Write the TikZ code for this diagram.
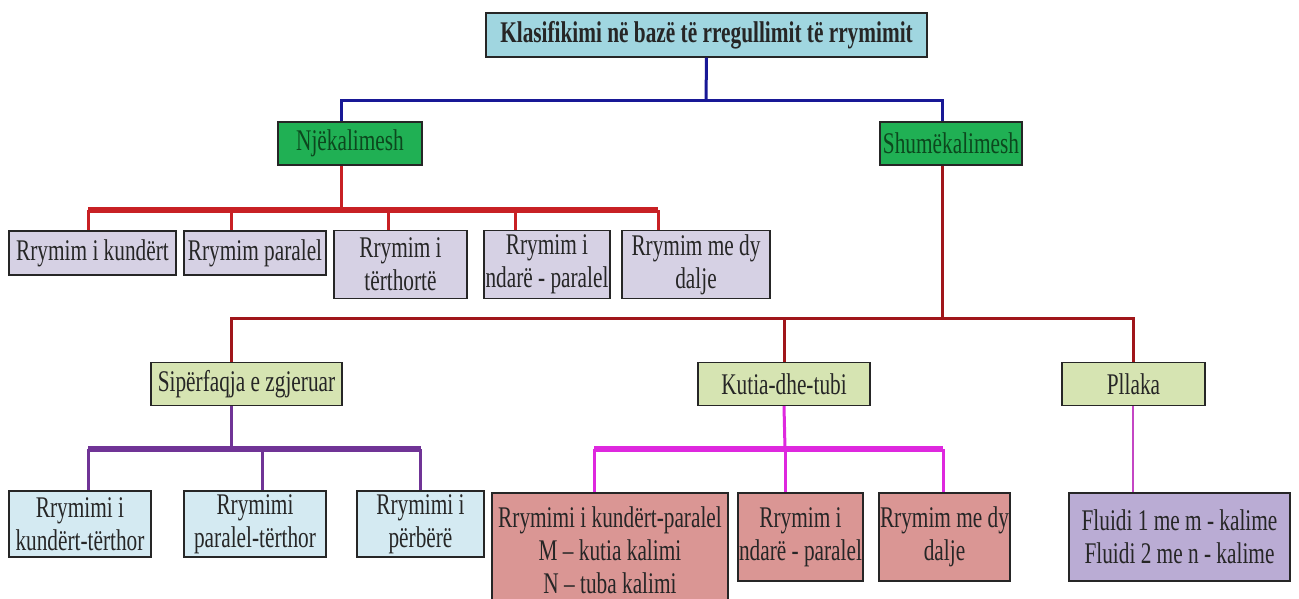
\documentclass[tikz,border=0pt]{standalone}
\usepackage{fontspec}
\setmainfont{Liberation Serif}[FakeStretch=0.71]
\begin{document}
\begin{tikzpicture}[x=1pt,y=-1pt,
  box/.style={draw=black!85,line width=1.2pt,inner sep=0pt,align=center,
    text=black!85,font=\fontsize{30}{33}\selectfont},
  topbox/.style={box,fill=topfill,font=\bfseries\fontsize{30}{33}\selectfont},
  greenbox/.style={box,fill=grfill,text=grtext},
  lilabox/.style={box,fill=lilafill},
  olivebox/.style={box,fill=olivefill},
  bluebox/.style={box,fill=bluefill},
  salmonbox/.style={box,fill=salmonfill},
  violetbox/.style={box,fill=violetfill},
  blueline/.style={draw=lnblue,line width=3pt},
  redbus/.style={draw=lnred,line width=6pt},
  reddrop/.style={draw=lnred,line width=3pt},
  darkred/.style={draw=lndark,line width=3pt},
  purpbus/.style={draw=lnpurp,line width=6pt},
  purpdrop/.style={draw=lnpurp,line width=3pt},
  magbus/.style={draw=lnmag,line width=6pt},
  magdrop/.style={draw=lnmag,line width=3pt},
  plline/.style={draw=lnpl,line width=2.5pt}]
\definecolor{topfill}{RGB}{160,214,224}
\definecolor{grfill}{RGB}{32,176,84}
\definecolor{grtext}{RGB}{12,72,30}
\definecolor{lilafill}{RGB}{214,209,228}
\definecolor{olivefill}{RGB}{214,228,178}
\definecolor{bluefill}{RGB}{212,234,242}
\definecolor{salmonfill}{RGB}{218,150,148}
\definecolor{violetfill}{RGB}{186,172,212}
\definecolor{lnblue}{RGB}{24,24,150}
\definecolor{lnred}{RGB}{200,32,36}
\definecolor{lndark}{RGB}{160,22,26}
\definecolor{lnpurp}{RGB}{112,52,150}
\definecolor{lnmag}{RGB}{222,40,222}
\definecolor{lnpl}{RGB}{196,70,196}

\fill[white] (0,0) rectangle (1299,599);
\useasboundingbox (0,0) rectangle (1299,599);

% root
\node[topbox,minimum width=441,minimum height=44] (root) at (706.5,35)
  {Klasifikimi në bazë të rregullimit të rrymimit};

% first level
\node[greenbox,minimum width=144,minimum height=43] (nje) at (350,143.5) {Njëkalimesh};
\node[greenbox,minimum width=142,minimum height=43] (shu) at (951,143.5) {Shumëkalimesh};

% single-pass children
\node[lilabox,minimum width=167,minimum height=44] (rk) at (92.5,253) {Rrymim i kundërt};
\node[lilabox,minimum width=142,minimum height=44] (rp) at (255,253) {Rrymim paralel};
\node[lilabox,minimum width=133,minimum height=68] (rt) at (400.5,264.5) {Rrymim i\\tërthortë};
\node[lilabox,minimum width=126,minimum height=68] (rn) at (547,264.5) {Rrymim i\\ndarë - paralel};
\node[lilabox,minimum width=148,minimum height=68] (rd) at (696,264.5) {Rrymim me dy\\dalje};

% multi-pass children
\node[olivebox,minimum width=191,minimum height=43] (sip) at (246.5,384) {Sipërfaqja e zgjeruar};
\node[olivebox,minimum width=172,minimum height=43] (kut) at (784,384) {Kutia-dhe-tubi};
\node[olivebox,minimum width=143,minimum height=43] (pll) at (1133.5,384) {Pllaka};

% extended surface
\node[bluebox,minimum width=142,minimum height=66] (pk) at (80,524) {Rrymimi i\\kundërt-tërthor};
\node[bluebox,minimum width=142,minimum height=66] (pp) at (255,524) {Rrymimi\\paralel-tërthor};
\node[bluebox,minimum width=127,minimum height=66] (pb) at (420.5,524) {Rrymimi i\\përbërë};

% shell and tube
\node[salmonbox,minimum width=236,minimum height=114] (mk) at (610,550)
  {Rrymimi i kundërt-paralel\\M – kutia kalimi\\N – tuba kalimi};
\node[salmonbox,minimum width=125,minimum height=88] (mn) at (800.5,537) {Rrymim i\\ndarë - paralel};
\node[salmonbox,minimum width=131,minimum height=88] (md) at (944.5,537) {Rrymim me dy\\dalje};

% plate
\node[violetbox,minimum width=221,minimum height=88] (fl) at (1179.5,537)
  {Fluidi 1 me m - kalime\\Fluidi 2 me n - kalime};

% bus junctions
\coordinate (jb) at (706,101);
\coordinate (jr) at (341,210);
\coordinate (jd) at (942,318);
\coordinate (jp) at (231,449);
\coordinate (jm) at (785,449);

% root -> first level
\draw[blueline] (root.south) -- (jb);
\draw[blueline] ([xshift=-9]nje.north) |- ([xshift=-9]shu.north |- jb) -- ([xshift=-9]shu.north);

% single-pass
\draw[reddrop] ([xshift=-9]nje.south) -- (jr);
\draw[redbus] ([xshift=-4.5]rk.north |- jr) -- ([xshift=-38]rd.north |- jr);
\foreach \n/\s in {rk/-4.5,rp/-24,rt/-12.5,rn/-32,rd/-38}
  \draw[reddrop] ([xshift=\s]\n.north |- jr) -- ([xshift=\s]\n.north);

% multi-pass
\draw[darkred] ([xshift=-9]shu.south) -- (jd);
\draw[darkred] ([xshift=-15.5]sip.north) |- (pll.north |- jd) -- (pll.north);
\draw[darkred] (kut.north |- jd) -- (kut.north);

% extended surface
\draw[purpdrop] ([xshift=-15.5]sip.south) -- (jp);
\draw[purpbus] ([xshift=8]pk.north |- jp) -- (pb.north |- jp);
\foreach \n/\s in {pk/8,pp/7,pb/0}
  \draw[purpdrop] ([xshift=\s]\n.north |- jp) -- ([xshift=\s]\n.north);

% shell and tube
\draw[magdrop] (kut.south) -- (jm);
\draw[magbus] ([xshift=-16]mk.north |- jm) -- ([xshift=-1.5]md.north |- jm);
\foreach \n/\s in {mk/-16,mn/-15.5,md/-1.5}
  \draw[magdrop] ([xshift=\s]\n.north |- jm) -- ([xshift=\s]\n.north);

% plate
\draw[plline] ([xshift=-0.5]pll.south) -- ([xshift=-46.5]fl.north);
\end{tikzpicture}
\end{document}
